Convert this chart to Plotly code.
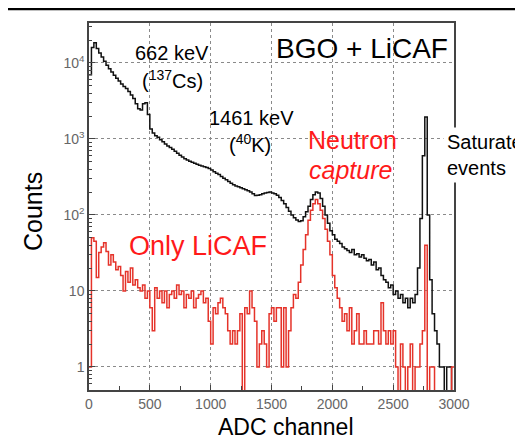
import numpy as np
import plotly.graph_objects as go

# ADC histogram, 20-channel bins from 0 to 3000 (150 bins)
bin_width = 20
bgo_licaf = [
    7000, 16000, 18500, 15500, 13500, 12000, 10500, 9300, 8400, 7600,
    6900, 6300, 5800, 5300, 4900, 4600, 4200, 3800, 3400, 2900,
    2500, 2400, 2900, 3000, 2100, 1350, 1200, 1100, 1050, 980,
    920, 860, 810, 770, 730, 690, 650, 610, 580, 550,
    530, 510, 495, 480, 465, 450, 440, 430, 420, 410,
    390, 370, 355, 340, 320, 305, 290, 275, 262, 250,
    240, 235, 228, 222, 215, 208, 200, 190, 180, 182,
    185, 190, 195, 198, 200, 195, 190, 182, 170, 155,
    140, 125, 112, 100, 92, 86, 82, 84, 95, 110,
    130, 160, 185, 200, 195, 165, 130, 100, 78, 62,
    55, 48, 45, 42, 38, 36, 34, 32, 35, 30,
    31, 28, 30, 27, 25, 26, 22, 24, 19, 20,
    16, 14, 13, 11, 12, 9, 10, 8, 9, 7,
    8, 6, 8, 7, 9, 20, 90, 600, 1950, 100,
    14, 5, 3, 2, 1, 1, 0, 1, 1, 0,
]
only_licaf = [
    1, 50, 45, 15, 32, 38, 43, 33, 22, 30,
    24, 19, 21, 16, 10, 18, 13, 20, 12, 14,
    11, 10, 12, 8, 10, 6, 3, 11, 8, 10,
    7, 10, 6, 9, 10, 8, 12, 9, 10, 6,
    9, 8, 10, 6, 8, 9, 10, 7, 8, 4,
    2, 6, 5, 7, 8, 6, 5, 3, 2, 3,
    2, 3, 5, 0, 6, 5, 10, 6, 4, 1,
    2, 3, 2, 1, 5, 6, 4, 6, 6, 1,
    6, 1, 3, 6, 9, 8, 13, 22, 35, 55,
    85, 115, 140, 160, 140, 115, 90, 65, 45, 30,
    16, 11, 8, 6, 4, 5, 3, 6, 2, 3,
    5, 2, 2, 3, 2, 2, 2, 3, 3, 2,
    7, 3, 2, 3, 2, 3, 1, 0, 2, 1,
    0, 1, 2, 0, 1, 1, 2, 3, 40, 0,
    1, 1, 0, 0, 0, 0, 0, 0, 0, 1,
]

x_ticks = [0, 500, 1000, 1500, 2000, 2500, 3000]
y_ticks = [1, 10, 100, 1000, 10000]
y_ticktext = ["1", "10", "10<sup>2</sup>", "10<sup>3</sup>", "10<sup>4</sup>"]

FONT = "Liberation Sans, Arial, sans-serif"


def steps(counts):
    # left bin edges + closing edge; empty bins pushed below the axis floor
    c = np.array(counts, dtype=float)
    c = np.where(c <= 0, 0.2, c)
    x = np.arange(len(c) + 1) * bin_width
    return x, np.append(c, c[-1])


fig = go.Figure()
x, y = steps(bgo_licaf)
fig.add_trace(go.Scatter(x=x, y=y, mode="lines", line_shape="hv",
                         line=dict(color="#111111", width=1.5)))
x, y = steps(only_licaf)
fig.add_trace(go.Scatter(x=x, y=y, mode="lines", line_shape="hv",
                         line=dict(color="#e5332a", width=1.5)))

grid = dict(showgrid=True, gridcolor="#8a8a8a", griddash="dot", gridwidth=1)
fig.update_xaxes(range=[0, 3000], tickvals=x_ticks, ticks="inside", ticklen=5,
                 tickcolor="#444", minor=dict(dtick=250, ticks="inside", ticklen=4,
                                              tickcolor="#444", showgrid=False),
                 showline=True, linecolor="#444", linewidth=1.5, mirror=True,
                 zeroline=False, tickfont=dict(size=14, color="#666"), **grid)
minor_y = [m * 10 ** k for k in range(-1, 5) for m in range(2, 10)]
fig.update_yaxes(type="log", range=[-0.303, 4.526], tickvals=y_ticks,
                 ticktext=y_ticktext, ticks="inside", ticklen=6, tickcolor="#444",
                 minor=dict(tickvals=minor_y, ticks="inside", ticklen=3,
                            tickcolor="#444", showgrid=False),
                 showline=True, linecolor="#444", linewidth=1.5, mirror=True,
                 zeroline=False, tickfont=dict(size=14, color="#666"), **grid)


# page pixel -> paper coords (page has an 8px body margin)
def px(v):
    return (v - 89) / 365


def py(v):
    return (390 - v) / 367


# white boxes that hide the grid behind the labels
for x0, y0, x1, y1 in [(126, 33, 215, 92), (215, 33, 453, 68),
                       (197, 100, 305, 160), (305, 112, 400, 190)]:
    fig.add_shape(type="rect", xref="paper", yref="paper", layer="between",
                  x0=px(x0), x1=px(x1), y0=py(y1), y1=py(y0),
                  fillcolor="white", line_width=0)

# thick rule at the top of the page
fig.add_shape(type="line", xref="paper", yref="paper", x0=px(0), x1=px(530),
              y0=py(8.8), y1=py(8.8), line=dict(color="black", width=3))

labels = [
    ("662 keV", 172, 53, 20, "black", "center", None),
    ("(<sup>137</sup>Cs)", 172, 80, 20, "black", "center", None),
    ("BGO + LiCAF", 362, 48, 28, "black", "center", None),
    ("1461 keV", 251, 118, 20, "black", "center", None),
    ("(<sup>40</sup>K)", 250, 143, 20, "black", "center", None),
    ("Neutron", 352, 140, 25, "#ff1a1a", "center", None),
    ("<i>capture</i>", 350, 170, 25, "#ff1a1a", "center", None),
    ("Saturate", 443, 142, 20, "black", "left", "white"),
    ("events", 443, 168, 20, "black", "left", "white"),
    ("Only LiCAF", 198, 246, 27, "#ff1a1a", "center", None),
]
for text, lx, ly, size, color, anchor, bg in labels:
    fig.add_annotation(text=text, xref="paper", yref="paper", x=px(lx), y=py(ly),
                       xanchor=anchor, yanchor="middle", showarrow=False,
                       bgcolor=bg, borderpad=3,
                       font=dict(size=size, color=color, family=FONT))

fig.add_annotation(text="Counts", xref="paper", yref="paper", x=px(33), y=py(212),
                   textangle=-90, showarrow=False, xanchor="center", yanchor="middle",
                   font=dict(size=25, color="black", family=FONT))
fig.add_annotation(text="ADC channel", xref="paper", yref="paper", x=px(286), y=py(427),
                   showarrow=False, xanchor="center", yanchor="middle",
                   font=dict(size=23, color="black", family=FONT))

# figure is 8px smaller than the window to leave room for the page margin
fig.update_layout(width=515, height=431, showlegend=False,
                  margin=dict(l=81, r=69, t=15, b=49),
                  paper_bgcolor="white", plot_bgcolor="white",
                  font=dict(family=FONT))
fig.write_html("out.html")
